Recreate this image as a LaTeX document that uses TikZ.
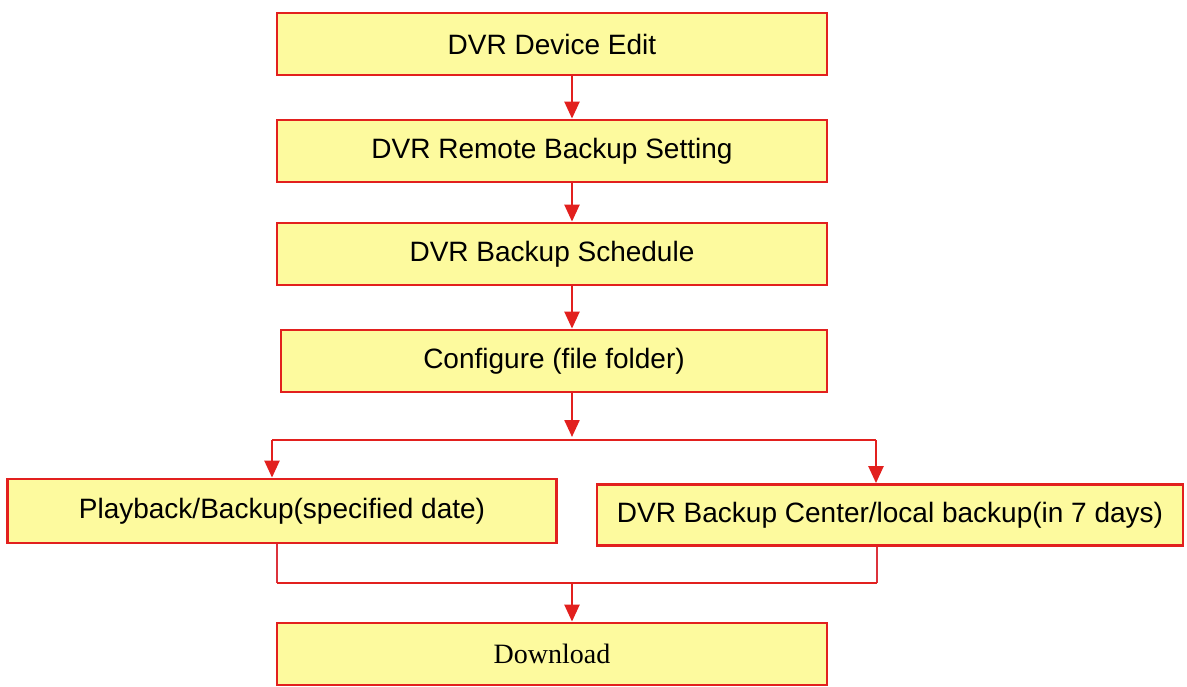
\documentclass[tikz,border=0pt]{standalone}
\usepackage{fontspec}
\setmainfont{Liberation Sans}
\newfontfamily\timesfont{Liberation Serif}
\usetikzlibrary{arrows.meta}
\definecolor{boxfill}{RGB}{253,250,158}
\definecolor{boxline}{RGB}{226,32,30}
\definecolor{thinline}{RGB}{220,50,60}
\tikzset{
  stepbox/.style={draw=boxline, line width=2.8pt, fill=boxfill, rectangle, inner sep=0pt,
    font=\fontsize{28}{33}\selectfont},
  flow/.style={draw=boxline, line width=2.4pt, -{Triangle[width=15pt,length=17pt]}},
  plain/.style={draw=boxline, line width=2.6pt},
  thin/.style={draw=thinline, line width=1.3pt}
}
\begin{document}
\begin{tikzpicture}[x=1pt,y=-1pt]
\useasboundingbox (0,0) rectangle (1187,687);
\node[stepbox, minimum width=550pt, minimum height=62pt] (b1) at (552,44) {DVR Device Edit};
\node[stepbox, minimum width=550pt, minimum height=62pt] (b2) at (552,151) {DVR Remote Backup Setting};
\node[stepbox, minimum width=550pt, minimum height=62pt] (b3) at (552,254) {DVR Backup Schedule};
\node[stepbox, minimum width=546pt, minimum height=62pt] (b4) at (554,361) {Configure (file folder)};
\node[stepbox, minimum width=549pt, minimum height=64pt] (b5) at (282,511) {Playback/Backup(specified date)};
\node[stepbox, minimum width=586pt, minimum height=61pt] (b6) at (890,515) {DVR Backup Center/local backup(in 7 days)};
\node[stepbox, minimum width=550pt, minimum height=62pt, font=\timesfont\fontsize{28}{33}\selectfont] (b7) at (552,654) {Download};

\draw[flow] (b1.south -| 572,0) -- (b2.north -| 572,0);
\draw[flow] (b2.south -| 572,0) -- (b3.north -| 572,0);
\draw[flow] (b3.south -| 572,0) -- (b4.north -| 572,0);
\coordinate (s) at (572,437);
\coordinate (sl) at (272,440);
\coordinate (sr) at (876,440);
\draw[flow] (b4.south -| 572,0) -- (s);
\draw[plain] (sl) -- (sr);
\draw[flow] (sl) -- (b5.north -| sl);
\draw[flow] (sr) -- (b6.north -| sr);
\coordinate (ml) at (277,583);
\coordinate (mr) at (877,583);
\coordinate (mm) at (572,583);
\draw[thin] (b5.south -| ml) -- (ml);
\draw[thin] (b6.south -| mr) -- (mr);
\draw[plain] (ml) -- (mr);
\draw[flow] (mm) -- (b7.north -| mm);
\end{tikzpicture}
\end{document}
